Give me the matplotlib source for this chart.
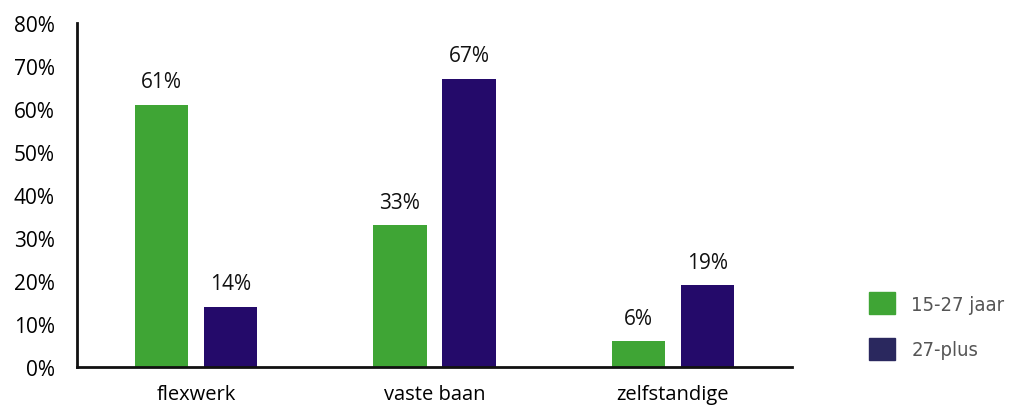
import matplotlib
matplotlib.use("Agg")
import matplotlib.pyplot as plt
from matplotlib.patches import Patch
import numpy as np

categories = ["flexwerk", "vaste baan", "zelfstandige"]
series_names = ["15-27 jaar", "27-plus"]
young = [61, 33, 6]
older = [14, 67, 19]
yticks = [0, 10, 20, 30, 40, 50, 60, 70, 80]

green = "#3fa535"
purple = "#240a6a"
legend_purple = "#2a285e"

plt.rcParams['font.family'] = ['Open Sans', 'DejaVu Sans']

fig = plt.figure(figsize=(10.12, 4.06), dpi=100)
ax = fig.add_axes([77/1012, 38/406, (792-77)/1012, 344/406])

x = np.arange(len(categories))
w = 0.223
off = 0.145
b1 = ax.bar(x - off, young, w, color=green)
b2 = ax.bar(x + off, older, w, color=purple)

for bars, vals in ((b1, young), (b2, older)):
    for r, v in zip(bars, vals):
        ax.annotate(f"{v}%", (r.get_x() + r.get_width()/2, v), xytext=(0, 9),
                    textcoords="offset points", ha="center", va="bottom",
                    fontsize=15, color="#111111")

ax.set_xlim(-0.5, 2.5)
ax.set_ylim(0, 80)
ax.set_yticks(yticks)
ax.set_yticklabels([f"{t}%" for t in yticks], fontsize=15)
ax.set_xticks(x)
ax.set_xticklabels(categories, fontsize=14.5)
ax.tick_params(axis='both', length=0)
ax.tick_params(axis='y', pad=16)
ax.tick_params(axis='x', pad=12)
for s in ("top", "right"):
    ax.spines[s].set_visible(False)
for s in ("left", "bottom"):
    ax.spines[s].set_linewidth(2)
    ax.spines[s].set_color("#111111")

handles = [Patch(color=green), Patch(color=legend_purple)]
leg = fig.legend(handles, series_names, loc="center left",
                 bbox_to_anchor=(869/1012, 1 - 327/406), frameon=False,
                 borderpad=0, borderaxespad=0,
                 handlelength=1.3, handleheight=1.3, handletextpad=0.8,
                 labelspacing=1.15,
                 prop={'family': ['DejaVu Sans'], 'stretch': 'condensed',
                       'size': 14.5, 'weight': 'normal'})
for t in leg.get_texts():
    t.set_color("#555555")

fig.savefig("out.png", dpi=100)
